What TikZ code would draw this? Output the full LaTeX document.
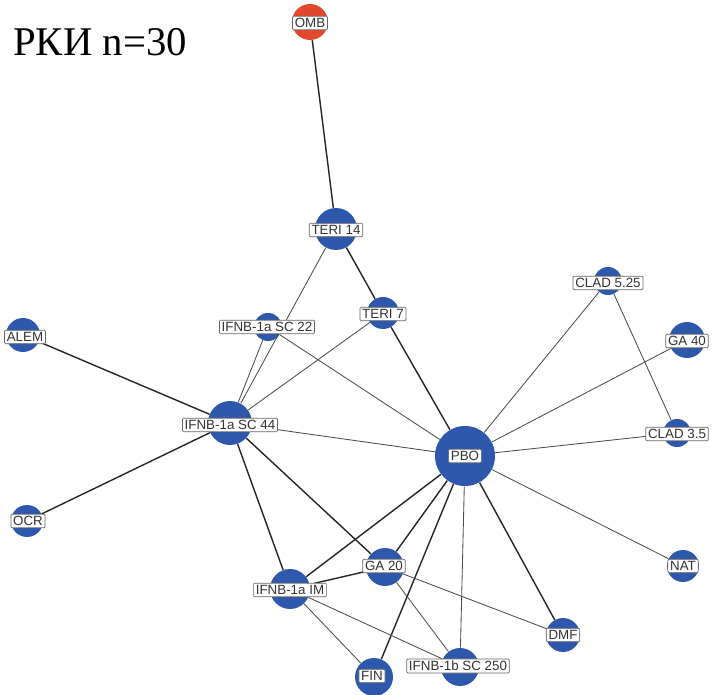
\documentclass[tikz,border=0pt]{standalone}
\usepackage{fontspec}
\setsansfont{Liberation Sans}
\newfontfamily\titlefont{Liberation Serif}
\usepackage{xcolor}
\usetikzlibrary{positioning}

\definecolor{drugblue}{RGB}{46,88,172}
\definecolor{drugred}{RGB}{226,72,44}

\tikzset{
  drug/.style={circle,fill=drugblue,draw=none,inner sep=0pt,minimum size={2*#1*0.025cm}},
  lbl/.style={draw=black!60,line width=.5pt,fill=white,rounded corners=.8pt,inner xsep=1.6pt,inner ysep=1.5pt,
    font=\sffamily\fontsize{9.5}{10}\selectfont,text=black!80},
  weak/.style={line width=.6pt,draw=black!70},
  strong/.style={line width=1pt,draw=black!85}
}

\begin{document}
\begin{tikzpicture}[x=0.025cm,y=-0.025cm]
\useasboundingbox (0,0) rectangle (712,695);
\begin{scope}
% circles
\node[drug=18,fill=drugred] (omb) at (310,22) {};
\node[drug=21] (teri14) at (336,229) {};
\node[drug=16] (teri7) at (383,313) {};
\node[drug=14] (sc22) at (268,327) {};
\node[drug=22] (sc44) at (230,423) {};
\node[drug=17] (alem) at (23,335) {};
\node[drug=16] (ocr) at (27,521) {};
\node[drug=30] (pbo) at (465,456) {};
\node[drug=14] (clad525) at (608,281) {};
\node[drug=18] (ga40) at (687,340) {};
\node[drug=14] (clad35) at (677,433) {};
\node[drug=16] (nat) at (683,566) {};
\node[drug=17] (dmf) at (563,635) {};
\node[drug=19] (ga20) at (385,567) {};
\node[drug=20] (im) at (290,589) {};
\node[drug=19] (fin) at (374,677) {};
\node[drug=19] (sc250) at (460,667) {};

% links
\draw[strong] (omb) -- (teri14);
\draw[strong] (teri14) -- (teri7);
\draw[weak] (teri14) -- (sc44);
\draw[weak] (sc22) -- (sc44);
\draw[weak] (teri7) -- (sc44);
\draw[strong] (teri7) -- (pbo);
\draw[weak] (sc22) -- (pbo);
\draw[strong] (alem) -- (sc44);
\draw[strong] (ocr) -- (sc44);
\draw[weak] (sc44) -- (pbo);
\draw[strong] (sc44) -- (ga20);
\draw[strong] (sc44) -- (im);
\draw[weak] (pbo) -- (clad525);
\draw[weak] (pbo) -- (ga40);
\draw[weak] (pbo) -- (clad35);
\draw[weak] (clad525) -- (clad35);
\draw[weak] (pbo) -- (nat);
\draw[strong] (pbo) -- (dmf);
\draw[weak] (pbo) -- (sc250);
\draw[strong] (pbo) -- (fin);
\draw[strong] (pbo) -- (im);
\draw[strong] (pbo) -- (ga20);
\draw[strong] (ga20) -- (im);
\draw[weak] (ga20) -- (dmf);
\draw[weak] (ga20) -- (sc250);
\draw[weak] (im) -- (fin);
\draw[weak] (im) -- (sc250);

% labels
\node[lbl] (ombL) at (310,23) {OMB};
\node[lbl] (teri14L) at (336,230) {TERI 14};
\node[lbl] (teri7L) at (383,314) {TERI 7};
\node[lbl] (sc22L) at (267,327) {IFNB-1a SC 22};
\node[lbl] (sc44L) at (230,425) {IFNB-1a SC 44};
\node[lbl] (alemL) at (25,337) {ALEM};
\node[lbl] (ocrL) at (28,521) {OCR};
\node[lbl] (pboL) at (465,456) {PBO};
\node[lbl] (clad525L) at (608,283) {CLAD 5.25};
\node[lbl] (ga40L) at (687,341) {GA 40};
\node[lbl] (clad35L) at (677,434) {CLAD 3.5};
\node[lbl] (natL) at (683,566) {NAT};
\node[lbl] (dmfL) at (563,635) {DMF};
\node[lbl] (ga20L) at (384,566) {GA 20};
\node[lbl] (imL) at (290,590) {IFNB-1a IM};
\node[lbl] (finL) at (372,676) {FIN};
\node[lbl] (sc250L) at (458,666) {IFNB-1b SC 250};

\node[anchor=base west,inner sep=0pt,font=\titlefont\fontsize{29}{32}\selectfont] (title) at (13,56) {РКИ n=30};
\end{scope}
\end{tikzpicture}
\end{document}
